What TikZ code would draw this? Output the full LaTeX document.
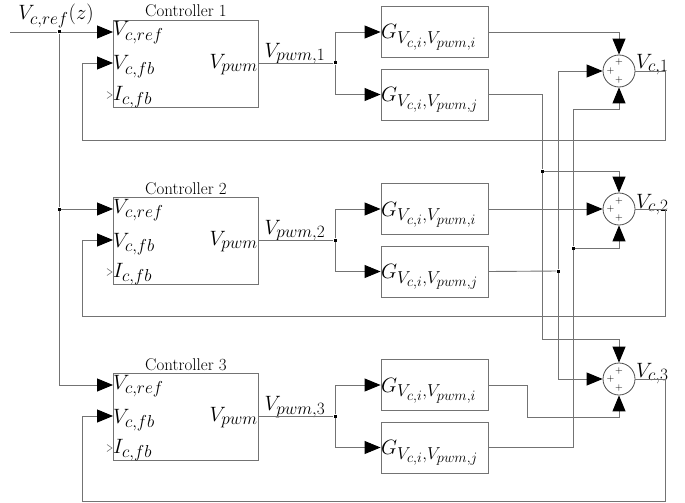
\documentclass[tikz,border=0pt]{standalone}
\usetikzlibrary{arrows.meta}
\DeclareMathSizes{21}{21}{16}{13}
\DeclareMathSizes{22}{22}{17}{14.5}
\begin{document}
\begin{tikzpicture}[x=1pt,y=-1pt,
  wire/.style={draw=black!55, line width=0.9pt},
  arr/.style={wire, -{Triangle[length=16pt,width=13pt,color=black]}},
  ctrlbox/.style={draw=black!55, line width=0.9pt, minimum width=145pt, minimum height=87pt, inner sep=0pt},
  gbox/.style={draw=black!55, line width=0.9pt, minimum width=107pt, minimum height=51pt, inner sep=0pt},
  sumnode/.style={circle, draw=black!70, line width=0.8pt, minimum size=32pt, inner sep=0pt},
  dot/.style={rectangle, fill=black, minimum size=3pt, inner sep=0pt},
  port/.style={inner sep=0pt, font=\fontsize{21}{24}\selectfont},
  gtext/.style={inner sep=0pt, font=\fontsize{22}{26}\selectfont},
  title/.style={inner sep=0pt, font=\fontsize{17}{20}\selectfont},
  plus/.style={inner sep=0pt, font=\fontsize{10}{11}\selectfont}]
\useasboundingbox (0,0) rectangle (685,503);

% controllers and G blocks
\foreach \i/\t in {1/20,2/197,3/373}{
  \node[ctrlbox] (c\i) at (185.5,\t+43.5) {};
  \node[title, anchor=base] (tt\i) at (186,\t-3) {Controller \i};
  \coordinate (c\i r) at (113,\t+12);
  \coordinate (c\i f) at (113,\t+43);
  \coordinate (c\i c) at (113,\t+75);
  \node[port, anchor=base west] (lr\i) at (113,\t+16) {$V_{c,ref}$};
  \node[port, anchor=base west] (lf\i) at (113,\t+50) {$V_{c,fb}$};
  \node[port, anchor=base west] (lc\i) at (113,\t+80) {$I_{c,fb}$};
  \node[port, anchor=base east] (lp\i) at (258,\t+48) {$V_{pwm}$};
  \node[dot] (b\i) at (335,\t+43) {};
  \node[port, anchor=base] (lv\i) at (295,\t+37) {$V_{pwm,\i}$};
  \node[gbox] (g\i i) at (434.5,\t+12) {};
  \node[gbox] (g\i j) at (434.5,\t+74.5) {};
  \node[gtext, anchor=base west] (gl\i i) at (381,\t+19) {$G_{V_{c,i},V_{pwm,i}}$};
  \node[gtext, anchor=base west] (gl\i j) at (381,\t+81.5) {$G_{V_{c,i},V_{pwm,j}}$};
  \draw[wire] (c\i.east |- b\i) -- (b\i);
  \draw[arr] (b\i) |- (g\i i.west);
  \draw[arr] (b\i) |- (g\i j.west);
  \draw[wire, line width=0.6pt] (c\i c) ++(-6,-3.5) -- ++(5,3.5) -- ++(-5,3.5);
}

% summing junctions
\foreach \i/\y in {1/71,2/209,3/379}{
  \node[sumnode] (s\i) at (619,\y) {};
  \node[plus] at (619,\y-8.5) {+};
  \node[plus] at (610.5,\y) {+};
  \node[plus] at (619,\y+8.5) {+};
}
\node[port, anchor=base west] (vc1) at (636,68) {$V_{c,1}$};
\node[port, anchor=base west] (vc2) at (636,208) {$V_{c,2}$};
\node[port, anchor=base west] (vc3) at (636,377) {$V_{c,3}$};

% reference input
\coordinate (in) at (10,32);
\node[dot] (d0) at (59,32) {};
\node[dot] (d1) at (59,209) {};
\node[port, anchor=base] (lref) at (56,20) {$V_{c,ref}(z)$};
\draw[wire] (in) -- (d0);
\draw[arr] (d0) -- (c1r);
\draw[wire] (d0) -- (d1);
\draw[arr] (d1) -- (c2r);
\draw[arr] (d1) |- (c3r);

% feedback loops
\coordinate (o1) at (665,71);
\coordinate (o2) at (665,209);
\coordinate (o3) at (665,379);
\coordinate (f1) at (82,140);
\coordinate (f2) at (82,316);
\coordinate (f3) at (82,501);
\draw[arr] (s1.east) -- (o1) |- (f1) |- (c1f);
\draw[arr] (s2.east) -- (o2) |- (f2) |- (c2f);
\draw[arr] (s3.east) -- (o3) |- (f3) |- (c3f);

% cross coupling
\node[dot] (j1) at (542,171) {};
\node[dot] (j2) at (558,271) {};
\node[dot] (j3) at (573,248) {};
\coordinate (t3) at (619,339);
\coordinate (u1) at (619,109);
\coordinate (k3) at (527,417);

\draw[arr] (g1i.east) -| (s1.north);
\draw[arr] (g2i.east) -- (s2.west);
\draw[arr] (g3i.east) -| (k3) -| (s3.south);

\draw[wire] (g1j.east) -| (j1);
\draw[arr] (j1) -| (s2.north);
\draw[arr] (j1) |- (t3) -- (s3.north);

\draw[wire] (g2j.east) -- (j2);
\draw[arr] (j2) |- (s1.west);
\draw[arr] (j2) |- (s3.west);

\draw[wire] (g3j.east) -| (j3);
\draw[arr] (j3) -| (s2.south);
\draw[arr] (j3) |- (u1) -- (s1.south);
\end{tikzpicture}
\end{document}
